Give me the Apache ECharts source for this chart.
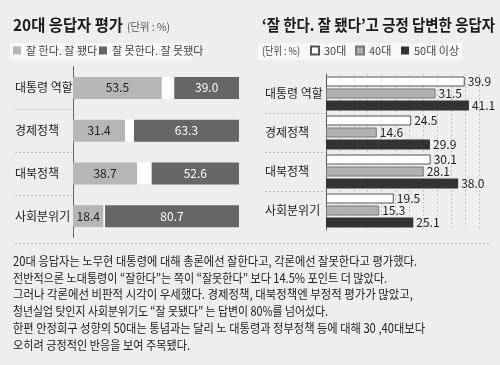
<!DOCTYPE html>
<html><head><meta charset="utf-8">
<script src="https://cdn.jsdelivr.net/npm/echarts@6/dist/echarts.min.js"></script>
<style>html,body{margin:0;padding:0;background:#eeeeee}#c{width:500px;height:365px}</style>
</head><body><div id="c"></div>
<script>
// ---- data ----
const categories = ['대통령 역할', '경제정책', '대북정책', '사회분위기'];
const goodPct = [53.5, 31.4, 38.7, 18.4];      // 잘 한다. 잘 됐다
const noAnswerPct = [7.5, 5.3, 8.7, 0.9];       // 무응답 (white gap)
const badPct = [39.0, 63.3, 52.6, 80.7];        // 잘 못한다. 잘 못됐다
const age30 = [39.9, 24.5, 30.1, 19.5];
const age40 = [31.5, 14.6, 28.1, 15.3];
const age50 = [41.1, 29.9, 38.0, 25.1];
const leftTitle = '20대 응답자 평가';
const rightTitle = '‘잘 한다. 잘 됐다’고 긍정 답변한 응답자';
const bodyLines = [
  '20대 응답자는 노무현 대통령에 대해 총론에선 잘한다고, 각론에선 잘못한다고 평가했다.',
  '전반적으론 노대통령이 “잘한다”는 쪽이 “잘못한다” 보다 14.5% 포인트 더 많았다.',
  '그러나 각론에선 비판적 시각이 우세했다. 경제정책, 대북정책엔 부정적 평가가 많았고,',
  '청년실업 탓인지 사회분위기도 “잘 못됐다” 는 답변이 80%를 넘어섰다.',
  '한편 안정희구 성향의 50대는 통념과는 달리 노 대통령과 정부정책 등에 대해 30 ,40대보다',
  '오히려 긍정적인 반응을 보여 주목됐다.'
];
const bodyWidths = [404, 374, 400, 315, 412, 177];

const FF = '"Noto Sans CJK KR", "Noto Sans", sans-serif';
const cv = document.createElement('canvas').getContext('2d');
function fit(text, font, w) { cv.font = font; return w / cv.measureText(text).width; }

const chart = echarts.init(document.getElementById('c'), null, {renderer: 'canvas'});

const bodyGraphics = bodyLines.map((t, i) => {
  const font = '12.5px ' + FF;
  return {type: 'text', x: 13, y: 255 + i * 16.7, scaleX: fit(t, font, bodyWidths[i]), z: 10,
    style: {text: t, font: font, fill: '#222', textVerticalAlign: 'top'}};
});

const tFontL = 'bold 16px ' + FF;
const option = {
  backgroundColor: '#eeeeee',
  animation: false,
  textStyle: {fontFamily: FF},
  graphic: [
    {type: 'rect', shape: {x: 10, y: 43, width: 183, height: 17}, style: {fill: '#f8f8f8'}, z: -5},
    {type: 'rect', shape: {x: 258, y: 43, width: 204, height: 17}, style: {fill: '#f8f8f8'}, z: -5},
    {type: 'text', x: 13, y: 17, scaleX: fit(leftTitle, tFontL, 110), style: {text: leftTitle, font: tFontL, fill: '#1a1a1a', textVerticalAlign: 'top'}},
    {type: 'text', x: 127, y: 21, scaleX: fit('(단위 : %)', '11px ' + FF, 43), style: {text: '(단위 : %)', font: '11px ' + FF, fill: '#555', textVerticalAlign: 'top'}},
    {type: 'text', x: 262, y: 17, scaleX: fit(rightTitle, tFontL, 233), style: {text: rightTitle, font: tFontL, fill: '#1a1a1a', textVerticalAlign: 'top'}},
    {type: 'text', x: 262, y: 45, scaleX: fit('(단위 : %)', '11px ' + FF, 38), style: {text: '(단위 : %)', font: '11px ' + FF, fill: '#444', textVerticalAlign: 'top'}},
    {type: 'line', shape: {x1: 15, y1: 243.5, x2: 490, y2: 243.5}, style: {stroke: '#bdbdbd', lineWidth: 1, lineDash: [2, 2]}},
  ].concat(bodyGraphics),
  legend: [
    {data: ['잘 한다. 잘 됐다'], left: 13, top: 45, padding: 0, itemWidth: 8, itemHeight: 8, itemGap: 4, icon: 'rect',
      textStyle: {fontSize: 11, color: '#444', fontFamily: FF}},
    {data: ['잘 못한다. 잘 못됐다'], left: 99, top: 45, padding: 0, itemWidth: 8, itemHeight: 8, itemGap: 4, icon: 'rect',
      textStyle: {fontSize: 11, color: '#444', fontFamily: FF}},
    {data: ['30대'], left: 310, top: 45, padding: 0, itemWidth: 8, itemHeight: 8, icon: 'rect',
      textStyle: {fontSize: 11, color: '#444', fontFamily: FF}},
    {data: ['40대'], left: 355, top: 45, padding: 0, itemWidth: 8, itemHeight: 8, icon: 'rect',
      textStyle: {fontSize: 11, color: '#444', fontFamily: FF}},
    {data: ['50대 이상'], left: 401, top: 45, padding: 0, itemWidth: 8, itemHeight: 8, icon: 'rect',
      textStyle: {fontSize: 11, color: '#444', fontFamily: FF}}
  ],
  grid: [
    {left: 73, width: 166, top: 66.5, height: 171},
    {left: 326, width: 153, top: 74, height: 156},
    {left: 15, width: 57, top: 66.5, height: 171},
    {left: 265, width: 61, top: 74, height: 156}
  ],
  xAxis: [
    {gridIndex: 0, type: 'value', min: 0, max: 100, show: false},
    {gridIndex: 1, type: 'value', min: 0, max: 44, interval: 4, axisLine: {show: false}, axisTick: {show: false}, axisLabel: {show: false},
      splitLine: {show: true, lineStyle: {color: '#c4c4c4', type: [2, 2], width: 1}}},
    {gridIndex: 2, type: 'value', show: false},
    {gridIndex: 3, type: 'value', show: false}
  ],
  yAxis: [
    {gridIndex: 0, type: 'category', data: categories, inverse: true,
      axisLine: {lineStyle: {color: '#666', width: 1}}, axisTick: {show: false},
      axisLabel: {align: 'left', margin: 58, fontSize: 12, color: '#222', fontFamily: FF}},
    {gridIndex: 1, type: 'category', data: categories, inverse: true,
      axisLine: {lineStyle: {color: '#666', width: 1}}, axisTick: {show: false},
      axisLabel: {align: 'left', margin: 61, fontSize: 12, color: '#222', fontFamily: FF}},
    {gridIndex: 2, type: 'value', min: 0, max: 4, interval: 1, axisLine: {show: false}, axisTick: {show: false}, axisLabel: {show: false},
      splitLine: {show: true, showMinLine: false, showMaxLine: false, lineStyle: {color: '#c0c0c0', type: [2, 2]}}},
    {gridIndex: 3, type: 'value', min: 0, max: 4, interval: 1, axisLine: {show: false}, axisTick: {show: false}, axisLabel: {show: false},
      splitLine: {show: true, showMinLine: false, showMaxLine: false, lineStyle: {color: '#c0c0c0', type: [2, 2]}}}
  ],
  series: [
    {name: '잘 한다. 잘 됐다', type: 'bar', xAxisIndex: 0, yAxisIndex: 0, stack: 'L', barWidth: 22, data: goodPct,
      itemStyle: {color: '#b6b6b6'},
      label: {show: true, position: 'inside', fontSize: 12, color: '#222', fontFamily: FF, formatter: p => p.value.toFixed(1)}},
    {name: '무응답', type: 'bar', xAxisIndex: 0, yAxisIndex: 0, stack: 'L', barWidth: 22, data: noAnswerPct,
      itemStyle: {color: '#ffffff'}},
    {name: '잘 못한다. 잘 못됐다', type: 'bar', xAxisIndex: 0, yAxisIndex: 0, stack: 'L', barWidth: 22, data: badPct,
      itemStyle: {color: '#666666'},
      label: {show: true, position: 'inside', fontSize: 12, color: '#fff', fontFamily: FF, formatter: p => p.value.toFixed(1)}},
    {name: '30대', type: 'bar', xAxisIndex: 1, yAxisIndex: 1, barWidth: 10, barGap: '20%', data: age30,
      itemStyle: {color: '#ffffff', borderColor: '#555', borderWidth: 1},
      label: {show: true, position: 'right', distance: 3, fontSize: 12, color: '#222', fontFamily: FF, formatter: p => p.value.toFixed(1)}},
    {name: '40대', type: 'bar', xAxisIndex: 1, yAxisIndex: 1, barWidth: 10, barGap: '20%', data: age40,
      itemStyle: {color: '#b2b2b2', borderColor: '#777', borderWidth: 1},
      label: {show: true, position: 'right', distance: 3, fontSize: 12, color: '#222', fontFamily: FF, formatter: p => p.value.toFixed(1)}},
    {name: '50대 이상', type: 'bar', xAxisIndex: 1, yAxisIndex: 1, barWidth: 10, barGap: '20%', data: age50,
      itemStyle: {color: '#333333'},
      label: {show: true, position: 'right', distance: 3, fontSize: 12, color: '#222', fontFamily: FF, formatter: p => p.value.toFixed(1)}}
  ]
};
chart.setOption(option);
</script></body></html>
